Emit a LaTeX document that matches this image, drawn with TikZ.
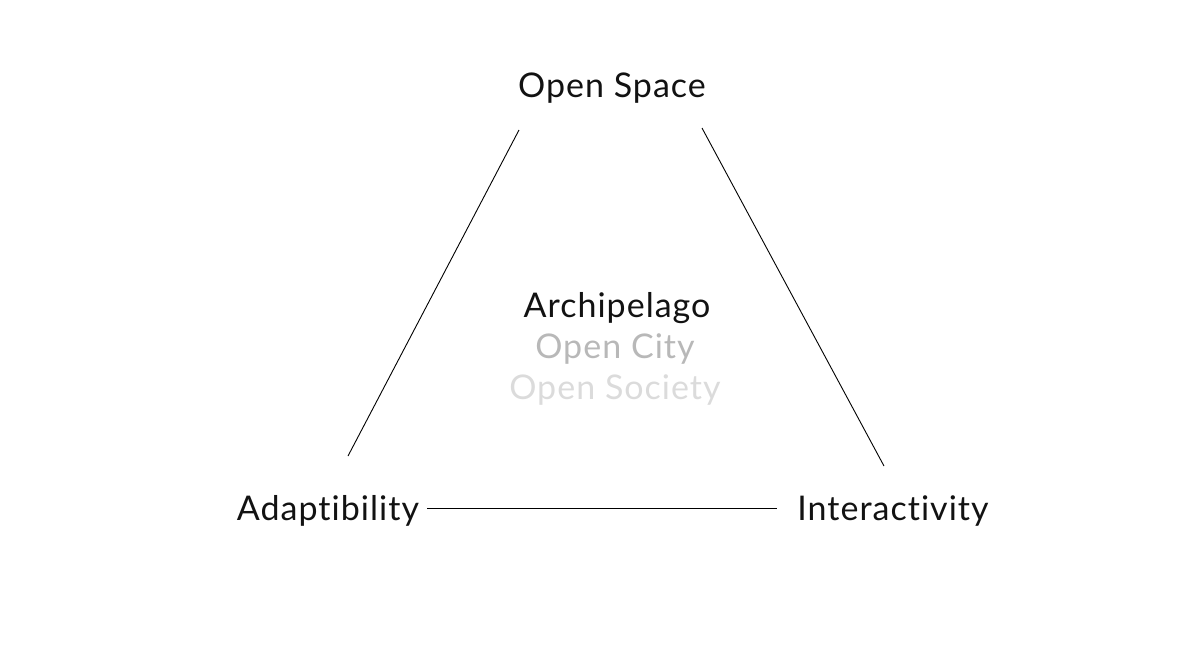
\documentclass[tikz,border=0pt]{standalone}
\usepackage{fontspec}
\setmainfont[Ligatures={NoCommon,NoRare}, LetterSpace=3]{Lato}
\usetikzlibrary{positioning, calc}

\begin{document}
\begin{tikzpicture}[
    x=1pt, y=-1pt,
    % 定义样式
    label/.style={anchor=base, inner sep=0pt, font=\fontsize{34}{40}\selectfont, text=black!93},
    sub/.style={label, text=black!28},
    subb/.style={label, text=black!14},
    edge/.style={draw=black, line width=0.9pt}
]
\useasboundingbox (0,0) rectangle (1192,670);

% --- 三个角 ---
\node[label] (space) at (612,97) {Open Space};
\node[label] (adapt) at (328,520) {Adaptibility};
\node[label] (inter) at (893,520) {Interactivity};

% --- 中心文字 ---
\node[label] (archi) at (617,317) {Archipelago};
\node[sub] (city) at (615,358) {Open City};
\node[subb] (society) at (615,399) {Open Society};

% --- 连接线端点 ---
\coordinate (space-l) at (519,130);
\coordinate (space-r) at (702,128);
\coordinate (adapt-t) at (348,456);
\coordinate (adapt-r) at (427,508);
\coordinate (inter-t) at (884,466);
\coordinate (inter-l) at (777,508);

% --- 绘制连接线 ---
\draw[edge] (space-l) -- (adapt-t);
\draw[edge] (space-r) -- (inter-t);
\draw[edge] (adapt-r) -- (inter-l);

\end{tikzpicture}
\end{document}
